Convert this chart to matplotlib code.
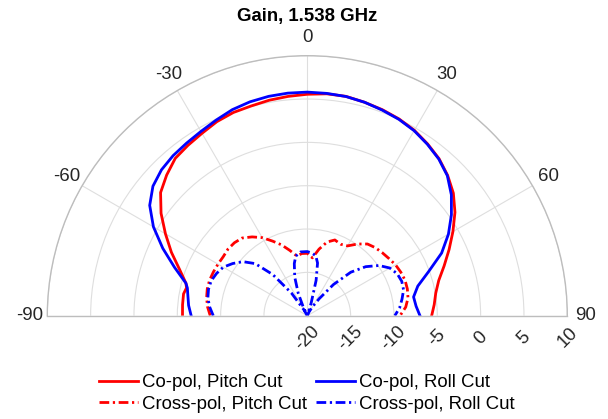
import numpy as np
import matplotlib
matplotlib.use("Agg")
import matplotlib.pyplot as plt

plt.rcParams['font.family'] = ['Liberation Sans', 'DejaVu Sans']

# Angles (deg) and gain (dB)
ang_co = [-90, -85, -80, -77, -75, -70, -65, -60, -55, -50, -45, -40, -35, -30, -25,
          -20, -15, -10, -5, 0, 5, 10, 15, 20, 25, 30, 35, 40, 45, 50, 55, 60, 65,
          70, 75, 80, 85, 90]
co_pitch = [-5.6, -5.55, -5.5, -5.7, -5.5, -4.3, -2.7, -1.1, 0.6, 2.1, 2.95, 3.7, 4.0,
            4.3, 4.7, 4.95, 5.05, 5.25, 5.4, 5.55, 5.7, 5.7, 5.5, 5.3, 5.05, 4.7, 4.2,
            3.65, 2.9, 2.0, 0.8, -0.6, -1.95, -3.2, -4.3, -4.95, -5.3, -5.65]
co_roll = [-6.6, -6.25, -6.0, -5.8, -5.5, -3.7, -1.6, 0.5, 2.2, 3.25, 3.8, 4.1, 4.3,
           4.55, 4.9, 5.3, 5.55, 5.7, 5.78, 5.8, 5.75, 5.68, 5.5, 5.25, 5.0, 4.65,
           4.15, 3.6, 2.85, 1.7, 0.3, -1.2, -2.9, -5.1, -6.8, -7.55, -7.4, -7.0]

ang_xp = [-90, -85, -80, -75, -70, -65, -60, -55, -50, -45, -40, -35, -30, -25, -20,
          -15, -10, -5, 0, 5, 10, 15, 20, 25, 30, 35, 40, 45, 50, 55, 60, 65, 70, 75,
          80, 85, 90]
cross_pitch = [-8.8, -8.45, -8.2, -8.05, -8.0, -8.05, -8.1, -8.15, -8.05, -8.1, -8.3,
               -8.9, -9.6, -10.5, -11.3, -12.2, -13.0, -12.8, -12.8, -13.3, -12.2,
               -11.2, -10.7, -10.9, -10.7, -9.9, -9.2, -8.9, -8.7, -8.5, -8.25, -8.1,
               -8.0, -8.05, -8.2, -8.6, -9.3]

ang_xr = [-90, -85, -80, -75, -70, -65, -60, -55, -50, -45, -40, -35, -30, -27, -25,
          -22, -18, -14, -11, -6, 0, 4, 8, 11, 14, 17, 19, 25, 30, 35, 40, 45, 50, 55,
          60, 65, 70, 75, 80, 85, 90]
cross_roll = [-9.15, -8.7, -8.35, -8.2, -8.2, -8.45, -8.8, -9.5, -10.3, -11.5, -13.8,
              -16.8, -19.2, -20, -18.9, -17.2, -15.3, -13.8, -13.0, -12.6, -12.6,
              -12.75, -13.0, -13.8, -15.8, -18.5, -20, -19.5, -18.8, -17.6, -15.3,
              -12.9, -11.2, -9.9, -9.0, -8.55, -8.4, -8.5, -8.9, -9.3, -9.9]

r_ticks = [-20, -15, -10, -5, 0, 5, 10]
theta_ticks = [-90, -60, -30, 0, 30, 60, 90]

fs = 13.4
dash = (0, (3.5, 1.3, 0.8, 1.3))

W, H = 608, 419
cx, cy, R = 307.3, 315.7, 260   # centre and radius of the half disc, px from top-left
fig = plt.figure(figsize=(W / 100, H / 100), dpi=100)
# polar axes keeps a square box; the half disc sits centred in it
mid = cy - R / 2
ax = fig.add_axes([(cx - R) / W, 1 - (mid + R) / H, 2 * R / W, 2 * R / H], projection='polar')
ax.set_theta_zero_location('N')
ax.set_theta_direction(-1)
ax.set_thetamin(-90)
ax.set_thetamax(90)
ax.set_rlim(-20, 10)

ax.plot(np.deg2rad(ang_co), co_pitch, color='red', lw=2, label='Co-pol, Pitch Cut')
ax.plot(np.deg2rad(ang_xp), cross_pitch, color='red', lw=2, ls=dash, label='Cross-pol, Pitch Cut')
ax.plot(np.deg2rad(ang_co), co_roll, color='blue', lw=2, label='Co-pol, Roll Cut')
ax.plot(np.deg2rad(ang_xr), cross_roll, color='blue', lw=2, ls=dash, label='Cross-pol, Roll Cut')

ax.set_thetagrids(theta_ticks, [''] * len(theta_ticks))
ax.set_rticks(r_ticks)
ax.set_yticklabels([])
ax.grid(True, color='#dedede', lw=0.8)
for s in ax.spines.values():
    s.set_color('#bdbdbd')
    s.set_linewidth(1.0)

# angle labels centred on a circle a little outside the plot
r_lab = 10 + 18 * 30 / R
for t in theta_ticks:
    ax.text(np.deg2rad(t), r_lab, str(t), ha='center', va='center', fontsize=fs,
            color='#262626', clip_on=False)

for r in r_ticks:
    ax.annotate(str(r), xy=(np.pi / 2, r), xytext=(0, -16), textcoords='offset points',
                rotation=45, ha='center', va='center', fontsize=fs, color='#262626',
                annotation_clip=False)

fig.text(0.505, 1 - 17 / H, 'Gain, 1.538 GHz', fontsize=fs, fontweight='bold',
         ha='center', va='center')

handles, labels = ax.get_legend_handles_labels()
fig.legend(handles, labels, loc='lower center', bbox_to_anchor=(0.505, -0.025), ncol=2,
           frameon=False, fontsize=fs, handlelength=2.1, handletextpad=0.2,
           columnspacing=0.5, labelspacing=0.24)

fig.savefig('out.png', dpi=100)
